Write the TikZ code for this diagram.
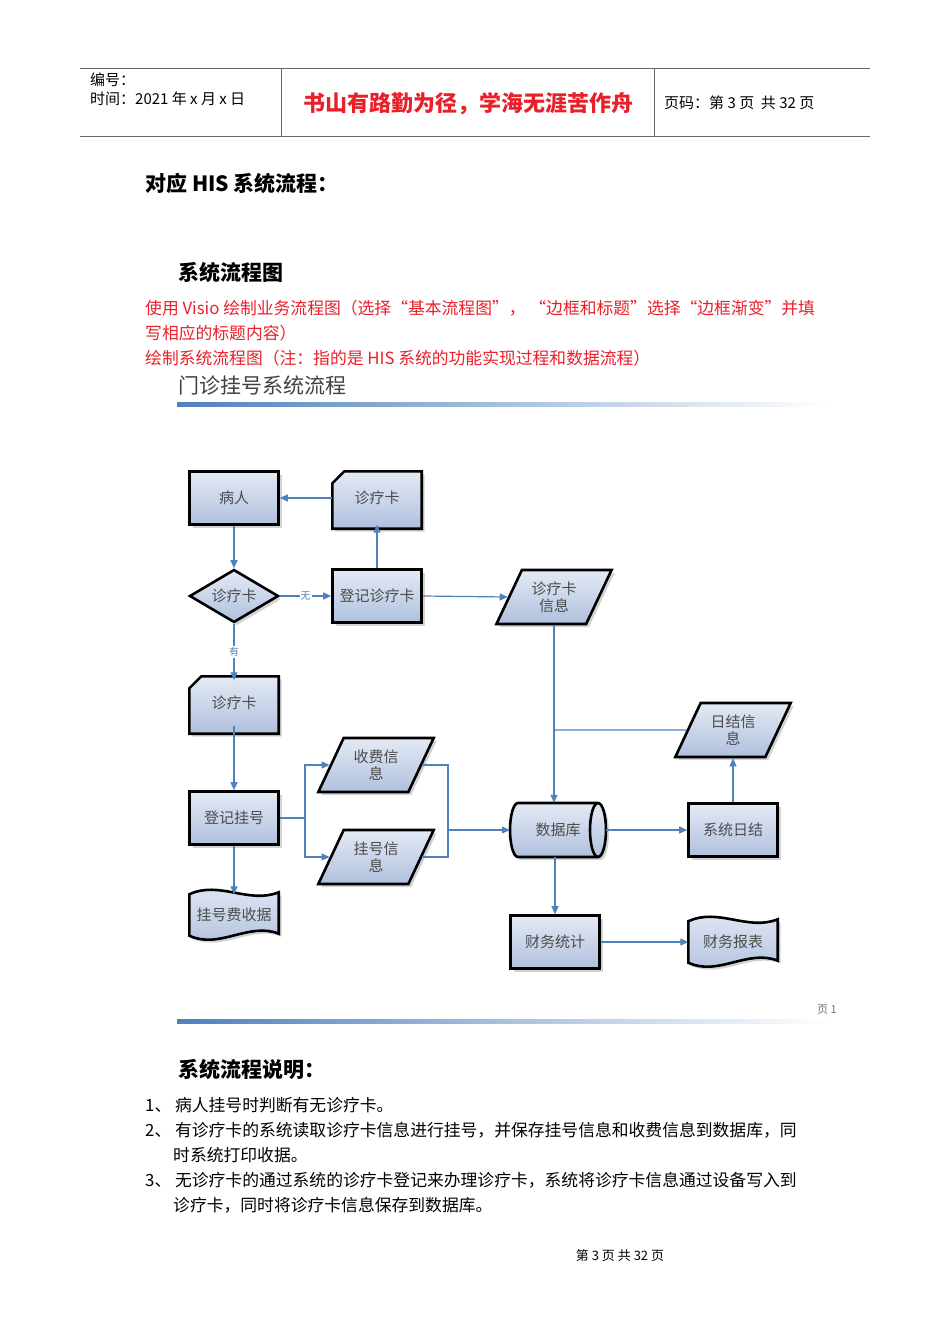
\documentclass[tikz,border=0pt]{standalone}
\usepackage{fontspec}
\setmainfont{Liberation Serif}
\newfontfamily\cjk{Noto Sans CJK SC}
\usetikzlibrary{shapes.geometric,shadows,arrows.meta}
\definecolor{ln}{HTML}{4F81BD}
\definecolor{ftop}{HTML}{E4EAF5}
\definecolor{fbot}{HTML}{AFC0DD}
\definecolor{hd}{HTML}{E8202A}
\tikzset{
  shp/.style={draw=black,line width=2.6pt,top color=ftop,bottom color=fbot,
    drop shadow={shadow xshift=3pt,shadow yshift=-3pt,opacity=0.35,fill=gray}},
  hold/.style={minimum width=89pt,minimum height=53pt,inner sep=0pt,font=\cjk\fontsize{15}{17}\selectfont,text=black!70},
  boxn/.style={hold,shp,rectangle},
  para/.style={hold,shp,trapezium,trapezium left angle=60,trapezium right angle=120,trapezium stretches=true,minimum width=116pt,minimum height=54pt,align=center},
  con/.style={ln,line width=1.2pt,-{Triangle[length=8pt,width=7pt]}},
  conn/.style={ln,line width=1.2pt},
  body/.style={anchor=base west,font=\cjk\fontsize{16.8}{19}\selectfont,inner sep=0pt},
  lab/.style={fill=white,inner sep=1pt,font=\cjk\fontsize{10}{11}\selectfont},
}
\begin{document}
\begin{tikzpicture}[x=1pt,y=-1pt]
\useasboundingbox (0,0) rectangle (950,1344);
% header
\draw[black!60,line width=0.8pt] (80,68)--(870,68) (80,136)--(870,136) (281,68)--(281,136) (654,68)--(654,136);
\node[body,font=\cjk\fontsize{15}{17}\selectfont] (h1) at (90,85) {编号：};
\node[body,font=\cjk\fontsize{15}{17}\selectfont] (h2) at (90,104) {时间：2021 年 x 月 x 日};
\node[font=\cjk\bfseries\fontsize{22}{26}\selectfont,text=hd] (h3) at (468,104) {书山有路勤为径，学海无涯苦作舟};
\node[body,font=\cjk\fontsize{15}{17}\selectfont] (h4) at (664,108) {页码：第 3 页\ \ 共 32 页};
\node[body,font=\cjk\bfseries\fontsize{21}{25}\selectfont] (t1) at (145,191) {对应 HIS 系统流程：};
\node[body,font=\cjk\bfseries\fontsize{21}{25}\selectfont] (t2) at (178,280) {系统流程图};
\node[body,text=hd] (r1) at (145,314) {使用 Visio 绘制业务流程图（选择“基本流程图”，\ “边框和标题”选择“边框渐变”并填};
\node[body,text=hd] (r2) at (145,339) {写相应的标题内容）};
\node[body,text=hd] (r3) at (145,364) {绘制系统流程图（注：指的是 HIS 系统的功能实现过程和数据流程）};
\node[body,font=\cjk\fontsize{21}{25}\selectfont,text=black!75] (t3) at (178,393) {门诊挂号系统流程};
\shade[left color=ln,right color=white] (177,402) rectangle (830,406);
\shade[left color=ln,right color=white] (177,1019) rectangle (830,1023);
\node[font=\cjk\fontsize{11}{13}\selectfont,text=black!55] (pg) at (827,1010) {页 1};
% nodes
\node[boxn] (br) at (234,498) {病人};
\node[hold] (k1) at (377,498) {};
\node[hold,shp,diamond,aspect=1.7,minimum width=89pt,minimum height=53pt] (dm) at (234,596) {诊疗卡};
\node[boxn] (djk) at (377,596) {登记诊疗卡};
\node[para] (kxx) at (554,597) {诊疗卡\\信息};
\node[hold] (k2) at (234,703) {};
\node[para] (rj) at (733,730) {日结信\\息};
\node[para] (sf) at (376,765) {收费信\\息};
\node[boxn] (djgh) at (234,818) {登记挂号};
\node[para] (gh) at (376,857) {挂号信\\息};
\node[hold,minimum width=96pt,minimum height=54pt] (db) at (558,830) {};
\node[boxn] (xtrj) at (733,830) {系统日结};
\node[hold] (ghsj) at (234,915) {};
\node[boxn] (cwtj) at (555,942) {财务统计};
\node[hold] (cwbb) at (733,942) {};
% card shapes
\foreach \n in {k1,k2}{
  \path[shp] ([xshift=12pt]\n.north west)--(\n.north east)--([yshift=-4pt]\n.south east)--([yshift=-4pt]\n.south west)--([yshift=-12pt]\n.north west)--cycle;
  \node[hold] at (\n) {诊疗卡};
}
% cylinder
\path[shp] (518,803) -- (598,803) arc[start angle=-90,end angle=90,x radius=8,y radius=27] -- (518,857) arc[start angle=90,end angle=270,x radius=8,y radius=27] -- cycle;
\draw[black,line width=2.6pt] (598,803) arc[start angle=-90,end angle=-270,x radius=8,y radius=27];
\node[hold] at (db) {数据库};
% document shapes
\foreach \n/\t in {ghsj/挂号费收据,cwbb/财务报表}{
  \path[shp] ([yshift=-6pt]\n.north west) .. controls +(30,-14) and +(-30,12) .. ([yshift=-4pt]\n.north east)
     -- ([yshift=8pt]\n.south east) .. controls +(-30,-12) and +(30,14) .. ([yshift=6pt]\n.south west) -- cycle;
  \node[hold] at (\n) {\t};
}
% connectors
\draw[con] (br)--(dm);
\draw[con] (k1.west)--(br.east);
\draw[con] (djk)--(k1.south);
\draw[con] (dm.east)--node[lab]{无}(djk.west);
\draw[con] (dm.south)--node[lab]{有}([yshift=-4pt]k2.north);
\draw[con] (djk.east)--(kxx.west);
\draw[con] (kxx.bottom side -| 554,0)--(db.north -| 554,0);
\draw[conn] (rj.west)--(554,730);
\draw[con] (xtrj)--(rj.bottom side -| xtrj);
\draw[con] ([yshift=4pt]k2.south)--(djgh);
\draw[con] (djgh.south)--([yshift=-6pt]ghsj.north);
\draw[conn] (djgh.east)--(305,818);
\draw[con] (305,818)|-(sf.west);
\draw[con] (305,818)|-(gh.west);
\draw[conn] (sf.east)-|(448,830);
\draw[conn] (gh.east)-|(448,830);
\draw[con] (448,830)--(db.west);
\draw[con] (db.east)--(xtrj.west);
\draw[con] (db.south -| 555,0)--(cwtj.north);
\draw[con] (cwtj.east)--(cwbb.west);
% explanation
\node[body,font=\cjk\bfseries\fontsize{21}{25}\selectfont] (t4) at (178,1077) {系统流程说明：};
\node[body] (l1) at (145,1111) {1、\ 病人挂号时判断有无诊疗卡。};
\node[body] (l2) at (145,1136) {2、\ 有诊疗卡的系统读取诊疗卡信息进行挂号，并保存挂号信息和收费信息到数据库，同};
\node[body] (l3) at (173,1161) {时系统打印收据。};
\node[body] (l4) at (145,1186) {3、\ 无诊疗卡的通过系统的诊疗卡登记来办理诊疗卡，系统将诊疗卡信息通过设备写入到};
\node[body] (l5) at (173,1211) {诊疗卡，同时将诊疗卡信息保存到数据库。};
\node[font=\cjk\fontsize{13}{15}\selectfont] (ft) at (620,1256) {第 3 页 共 32 页};
\end{tikzpicture}
\end{document}
